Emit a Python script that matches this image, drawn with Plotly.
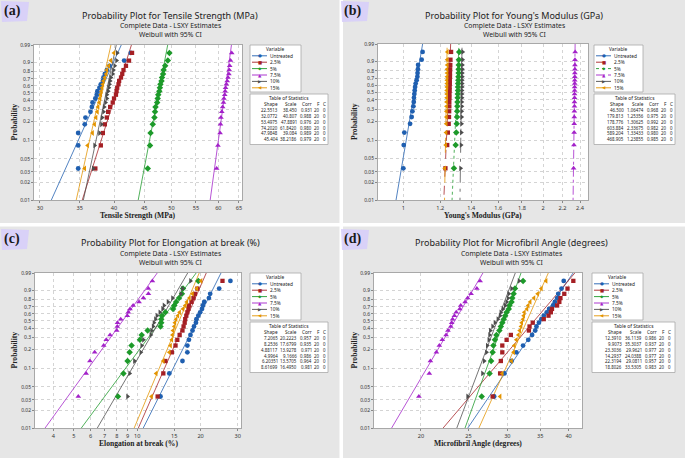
import numpy as np
import plotly.graph_objects as go

W, H = 685, 458

variables = ["Untreated", "2.5%", "5%", "7.5%", "10%", "15%"]
colors = ["#1f5fb0", "#a51f24", "#1d9a2a", "#a321c9", "#4d4d4d", "#e39400"]
symbols = ["circle", "square", "diamond", "triangle-up", "triangle-right", "triangle-left"]
glyphs = ["●", "■", "◆", "▲", "▶", "◀"]
marker_sizes = [4.8, 4.3, 5.0, 5.0, 5.0, 5.0]
dash_b = ["solid", "dash", "dot", "dashdot", "longdashdot", "longdash"]

prob_ticks = [0.01, 0.02, 0.03, 0.05, 0.1, 0.2, 0.3, 0.4, 0.5, 0.6, 0.7, 0.8, 0.9, 0.99]
prob_ticktext = ["0.01", "0.02", "0.03", "0.05", "0.1", "0.2", "0.3", "0.4", "0.5",
                 "0.6", "0.7", "0.8", "0.9", "0.99"]

# ---------------- (a) Tensile strength (MPa) ----------------
tensile_untreated = [34.8, 34.8, 34.8, 35.7, 35.8, 36.5, 36.7, 36.8, 37.2, 37.4, 37.5, 37.8, 38.0, 38.3, 38.4, 38.6, 38.9, 39.3, 41.6, 42.7]
tensile_2_5 = [37.2, 38.0, 38.3, 38.6, 38.9, 39.1, 39.4, 39.8, 40.0, 40.3, 40.4, 40.5, 40.7, 40.8, 41.1, 41.3, 41.5, 41.9, 42.4, 42.9]
tensile_5 = [45.6, 46.0, 46.1, 46.5, 46.8, 46.9, 47.0, 47.3, 47.4, 47.5, 47.7, 47.8, 47.9, 48.1, 48.2, 48.4, 48.5, 48.8, 49.3, 49.6]
tensile_7_5 = [59.6, 59.9, 60.4, 60.5, 60.6, 60.8, 61.0, 61.2, 61.3, 61.5, 61.6, 61.7, 61.9, 62.1, 62.3, 62.5, 62.6, 62.7, 62.9, 63.2]
tensile_10 = [36.9, 37.1, 37.8, 38.1, 38.2, 38.4, 38.5, 38.7, 38.9, 38.9, 39.1, 39.2, 39.3, 39.4, 39.5, 39.8, 39.9, 40.1, 40.4, 40.5]
tensile_15 = [35.7, 36.1, 36.8, 37.1, 37.3, 37.5, 37.6, 37.8, 37.9, 38.0, 38.1, 38.2, 38.3, 38.4, 38.6, 38.8, 38.9, 39.2, 39.5, 40.0]
tensile_shape = ["22.5513", "32.0772", "53.4975", "74.2020", "47.9848", "45.404"]
tensile_scale = ["38.450", "40.807", "47.8891", "61.8420", "39.084", "38.2186"]
tensile_corr = ["0.931", "0.988", "0.976", "0.980", "0.989", "0.979"]
tensile_xticks = [30, 35, 40, 45, 50, 55, 60, 65]

# ---------------- (b) Young's modulus (GPa) ----------------
young_untreated = [1.000, 1.002, 1.005, 1.034, 1.042, 1.046, 1.051, 1.053, 1.054, 1.056, 1.058, 1.060, 1.063, 1.068, 1.072, 1.073, 1.075, 1.076, 1.095, 1.100]
young_2_5 = [1.232, 1.243, 1.247, 1.252, 1.254, 1.255, 1.256, 1.256, 1.257, 1.257, 1.258, 1.258, 1.259, 1.259, 1.260, 1.260, 1.261, 1.262, 1.263, 1.267]
young_5 = [1.285, 1.296, 1.300, 1.303, 1.305, 1.306, 1.307, 1.308, 1.309, 1.310, 1.311, 1.311, 1.312, 1.313, 1.314, 1.315, 1.315, 1.316, 1.317, 1.319]
young_7_5 = [2.325, 2.329, 2.331, 2.332, 2.333, 2.334, 2.335, 2.335, 2.336, 2.336, 2.337, 2.337, 2.338, 2.338, 2.339, 2.339, 2.340, 2.340, 2.341, 2.343]
young_10 = [1.328, 1.331, 1.333, 1.334, 1.335, 1.335, 1.336, 1.336, 1.337, 1.337, 1.337, 1.338, 1.338, 1.338, 1.339, 1.339, 1.340, 1.340, 1.341, 1.342]
young_15 = [1.228, 1.234, 1.236, 1.237, 1.238, 1.238, 1.239, 1.239, 1.240, 1.240, 1.240, 1.241, 1.241, 1.241, 1.242, 1.242, 1.242, 1.243, 1.243, 1.244]
young_shape = ["46.500", "179.813", "178.776", "603.884", "589.204", "468.905"]
young_scale = ["1.06474", "1.25356", "1.30625", "2.33675", "1.33433", "1.23855"]
young_corr = ["0.968", "0.975", "0.992", "0.982", "0.980", "0.985"]
young_xticks = [1, 1.2, 1.4, 1.6, 1.8, 2, 2.2, 2.4]

# ---------------- (c) Elongation at break (%) ----------------
elong_untreated = [12.9, 14.2, 16.4, 17.3, 17.3, 17.6, 17.9, 18.3, 18.6, 19.0, 19.1, 19.5, 19.9, 20.3, 20.5, 20.8, 21.9, 22.2, 24.5, 27.7]
elong_2_5 = [12.5, 13.3, 13.6, 14.6, 15.2, 15.5, 15.9, 16.4, 16.6, 16.8, 16.9, 17.1, 17.3, 17.5, 17.6, 18.1, 18.5, 18.8, 19.3, 25.4]
elong_5 = [8.1, 8.6, 9.0, 9.2, 9.4, 10.3, 10.5, 11.2, 12.9, 13.0, 13.0, 13.1, 13.6, 14.8, 15.0, 15.3, 15.8, 16.3, 16.5, 19.5]
elong_7_5 = [5.25, 5.72, 5.96, 6.28, 6.93, 7.13, 7.43, 7.99, 8.04, 8.06, 8.35, 8.97, 9.07, 9.24, 9.56, 10.2, 10.7, 11.3, 11.3, 11.8]
elong_10 = [9.0, 9.2, 9.7, 10.4, 10.5, 10.7, 11.6, 11.7, 11.9, 12.0, 12.2, 12.4, 12.8, 13.2, 13.4, 14.0, 14.7, 16.1, 16.4, 17.9]
elong_15 = [11.7, 12.3, 13.3, 14.2, 14.4, 14.6, 14.7, 14.8, 15.0, 15.1, 15.3, 15.6, 15.9, 16.5, 16.9, 17.2, 17.7, 18.3, 19.2, 20.1]
elong_shape = ["7.2065", "8.2536", "4.88117", "4.9964", "6.20351", "8.61699"]
elong_scale = ["20.2223", "17.6799", "13.9278", "9.1666", "13.5705", "16.4950"]
elong_corr = ["0.957", "0.935", "0.971", "0.986", "0.964", "0.981"]
elong_xticks = [4, 5, 6, 7, 8, 9, 10, 15, 20, 30]

# ---------------- (d) Microfibril angle (degrees) ----------------
mfa_untreated = [28.2, 29.6, 30.6, 31.3, 32.3, 33.1, 33.7, 34.2, 34.4, 34.8, 35.2, 35.6, 36.1, 36.5, 37.2, 37.5, 37.9, 38.1, 38.7, 39.1]
mfa_2_5 = [28.0, 29.0, 29.1, 29.3, 29.3, 29.9, 30.5, 33.2, 33.3, 33.8, 35.6, 36.4, 36.8, 37.0, 37.9, 38.3, 38.5, 39.2, 39.8, 40.9]
mfa_5 = [26.6, 27.6, 27.8, 28.0, 28.1, 28.3, 28.5, 28.9, 29.1, 29.3, 29.5, 29.7, 29.9, 30.2, 30.3, 30.6, 30.7, 30.9, 31.1, 32.3]
mfa_7_5 = [19.8, 20.8, 20.9, 21.5, 21.8, 22.1, 22.5, 22.7, 23.0, 23.1, 23.2, 23.4, 23.6, 24.0, 24.1, 24.6, 24.9, 25.3, 26.0, 26.4]
mfa_10 = [24.9, 26.7, 26.9, 27.2, 27.3, 27.5, 27.6, 27.7, 28.0, 28.3, 28.7, 29.0, 29.1, 29.4, 29.7, 29.9, 30.1, 30.2, 30.6, 31.7]
mfa_15 = [29.0, 29.3, 30.6, 30.9, 31.0, 31.3, 31.6, 31.8, 32.0, 32.1, 32.3, 32.4, 32.5, 32.9, 33.1, 33.4, 34.0, 34.6, 35.2, 36.0]
mfa_shape = ["12.3910", "9.9073", "23.3036", "14.2937", "22.3194", "18.8026"]
mfa_scale = ["36.1139", "35.3037", "29.9621", "24.0388", "29.0811", "33.5305"]
mfa_corr = ["0.986", "0.937", "0.977", "0.977", "0.957", "0.983"]
mfa_xticks = [20, 25, 30, 35, 40]

N_OBS = "20"
N_CENS = "0"


def wtrans(p):
    p = np.asarray(p, dtype=float)
    return np.log(-np.log(1.0 - p))


def px(x):
    return x / W


def py(y):
    return 1 - y / H


def fmt_tick(v):
    return ("%g" % v)


panels = [
    dict(label="(a)", ox=0, oy=0, plot=(34, 242, 45, 200),
         title="Probability Plot for Tensile Strength (MPa)", xtitle="Tensile Strength (MPa)",
         xrange=(29.31, 65.77), xticks=tensile_xticks,
         series=[tensile_untreated, tensile_2_5, tensile_5, tensile_7_5, tensile_10, tensile_15],
         shape=tensile_shape, scale=tensile_scale, corr=tensile_corr, dashed=False,
         leg=(250, 301), tab=(250, 328), tcx=170),
    dict(label="(b)", ox=340, oy=0, plot=(38, 248, 44, 200),
         title="Probability Plot for Young's Modulus (GPa)", xtitle="Young's Modulus (GPa)",
         xrange=(0.882, 2.497), xticks=young_xticks,
         series=[young_untreated, young_2_5, young_5, young_7_5, young_10, young_15],
         shape=young_shape, scale=young_scale, corr=young_corr, dashed=True,
         leg=(254, 303), tab=(254, 335), tcx=174),
    dict(label="(c)", ox=0, oy=228, plot=(35, 241, 45, 200),
         title="Probability Plot for Elongation at break (%)", xtitle="Elongation at break (%)",
         xrange=(3.27, 31.1), xticks=elong_xticks,
         series=[elong_untreated, elong_2_5, elong_5, elong_7_5, elong_10, elong_15],
         shape=elong_shape, scale=elong_scale, corr=elong_corr, dashed=False,
         leg=(250, 301), tab=(250, 328), tcx=170),
    dict(label="(d)", ox=340, oy=228, plot=(34, 242, 45, 200),
         title="Probability Plot for Microfibril Angle (degrees)", xtitle="Microfibril Angle (degrees)",
         xrange=(16.04, 42.6), xticks=mfa_xticks,
         series=[mfa_untreated, mfa_2_5, mfa_5, mfa_7_5, mfa_10, mfa_15],
         shape=mfa_shape, scale=mfa_scale, corr=mfa_corr, dashed=False,
         leg=(252, 303), tab=(252, 335), tcx=172),
]

ymin, ymax = float(wtrans(0.01)), float(wtrans(0.99))

fig = go.Figure()
layout = dict(width=W, height=H, margin=dict(l=0, r=0, t=0, b=0, autoexpand=False),
              paper_bgcolor="#e6e6e6", plot_bgcolor="white", showlegend=False)
annotations = []
shapes = []

# white separators between the four panels
shapes.append(dict(type="rect", xref="paper", yref="paper", x0=px(339.5), x1=px(343),
                   y0=0, y1=1, fillcolor="white", line=dict(width=0), layer="below"))
shapes.append(dict(type="rect", xref="paper", yref="paper", x0=0, x1=1,
                   y0=py(226.5), y1=py(223), fillcolor="white", line=dict(width=0), layer="below"))

text_font = "Noto Sans, Open Sans, sans-serif"
serif_font = "Liberation Serif, Times New Roman, serif"


def note(x, y, text, size, anchor="center", family=text_font, color="#222222", **kw):
    d = dict(x=px(x), y=py(y), xref="paper", yref="paper", showarrow=False, text=text,
             xanchor=anchor, yanchor="middle", borderpad=0,
             font=dict(family=family, size=size, color=color))
    d.update(kw)
    annotations.append(d)


for k, P in enumerate(panels):
    n = "" if k == 0 else str(k + 1)
    xa, ya = "x" + n, "y" + n
    ox, oy = P["ox"], P["oy"]
    x0, x1, y0, y1 = P["plot"]

    layout["xaxis" + n] = dict(
        type="log", range=[np.log10(P["xrange"][0]), np.log10(P["xrange"][1])],
        domain=[px(ox + x0), px(ox + x1)], anchor=ya,
        tickvals=P["xticks"], ticktext=[fmt_tick(v) for v in P["xticks"]],
        showgrid=True, gridcolor="#d4d4d4", griddash="dot", gridwidth=0.8,
        showline=True, mirror=True, linecolor="#a8a8a8", linewidth=0.8,
        ticks="outside", ticklen=2, tickcolor="#888888", tickwidth=0.6,
        tickfont=dict(family=text_font, size=5.6, color="#333333"), zeroline=False)
    layout["yaxis" + n] = dict(
        range=[ymin, ymax], domain=[py(oy + y1), py(oy + y0)], anchor=xa,
        tickvals=list(wtrans(prob_ticks)), ticktext=prob_ticktext,
        showgrid=True, gridcolor="#d4d4d4", griddash="dot", gridwidth=0.8,
        showline=True, mirror=True, linecolor="#a8a8a8", linewidth=0.8,
        ticks="outside", ticklen=2, tickcolor="#888888", tickwidth=0.6,
        tickfont=dict(family=text_font, size=5.0, color="#333333"), zeroline=False)

    # fitted Weibull lines (from table parameters)
    for s in range(6):
        shp = float(P["shape"][s])
        scl = float(P["scale"][s])
        yy = np.array([ymin - 0.5, ymax + 0.5])
        xx = scl * np.exp(yy / shp)
        fig.add_trace(go.Scatter(
            x=xx, y=yy, mode="lines", xaxis=xa, yaxis=ya, hoverinfo="skip",
            line=dict(color=colors[s], width=0.9,
                      dash=dash_b[s] if P["dashed"] else "solid"),
            opacity=0.85))
    # data points at median ranks
    for s in range(6):
        data = sorted(P["series"][s])
        nobs = len(data)
        ranks = np.arange(1, nobs + 1)
        pp = (ranks - 0.3) / (nobs + 0.4)
        fig.add_trace(go.Scatter(
            x=data, y=wtrans(pp), mode="markers", xaxis=xa, yaxis=ya, name=variables[s],
            marker=dict(symbol=symbols[s], size=marker_sizes[s], color=colors[s],
                        line=dict(width=0))))

    # titles
    cx = ox + P["tcx"]
    note(cx, oy + 15, P["title"], 9)
    note(cx, oy + 25.3, "Complete Data - LSXY Estimates", 6.8)
    note(cx, oy + 34.3, "Weibull with 95% CI", 6.8)
    # axis titles
    note(ox + (x0 + x1) / 2, oy + 215.3, "<b>" + P["xtitle"] + "</b>", 7.6, family=serif_font)
    note(ox + 14, oy + (y0 + y1) / 2, "<b>Probability</b>", 7.6, family=serif_font, textangle=-90)
    # panel label with lavender highlight
    shapes.append(dict(type="path", xref="paper", yref="paper",
                       path="M %f %f L %f %f L %f %f L %f %f Z" % (
                           px(ox + 1), py(oy + 1), px(ox + 29), py(oy + 2),
                           px(ox + 27), py(oy + 21), px(ox + 2), py(oy + 22)),
                       fillcolor="rgba(214,204,250,0.85)", line=dict(width=0), layer="below"))
    note(ox + 3, oy + 11, "<b>" + P["label"] + "</b>", 14, anchor="left", family=serif_font,
         color="#1a1a1a")

    # legend box
    lx0, lx1 = P["leg"]
    shapes.append(dict(type="rect", xref="paper", yref="paper",
                       x0=px(ox + lx0), x1=px(ox + lx1), y0=py(oy + 92), y1=py(oy + 45),
                       fillcolor="white", line=dict(color="#a8a8a8", width=0.8)))
    note(ox + (lx0 + lx1) / 2, oy + 49.3, "Variable", 4.8)
    for s in range(6):
        yy = oy + 55.8 + s * 6.4
        shapes.append(dict(type="line", xref="paper", yref="paper",
                           x0=px(ox + lx0 + 2), x1=px(ox + lx0 + 17), y0=py(yy), y1=py(yy),
                           line=dict(color=colors[s], width=0.9,
                                     dash=dash_b[s] if P["dashed"] else "solid")))
        note(ox + lx0 + 9.5, yy, glyphs[s], 4.4, family="DejaVu Sans", color=colors[s])
        note(ox + lx0 + 19, yy, variables[s], 4.8, anchor="left")

    # table of statistics
    tx0, tx1 = P["tab"]
    shapes.append(dict(type="rect", xref="paper", yref="paper",
                       x0=px(ox + tx0), x1=px(ox + tx1), y0=py(oy + 144.5), y1=py(oy + 94),
                       fillcolor="white", line=dict(color="#a8a8a8", width=0.8)))
    note(ox + (tx0 + tx1) / 2, oy + 98.4, "Table of Statistics", 4.9)
    wide = (tx1 - tx0) > 80
    cols = [29, 48, 62.5, 70.8, 77.3] if not wide else [30.5, 50.5, 65.5, 74, 80]
    header = ["Shape", "Scale", "Corr", "F", "C"]
    for c in range(5):
        note(ox + tx0 + cols[c], oy + 104.3, header[c], 4.7, anchor="right")
    for s in range(6):
        row = [P["shape"][s], P["scale"][s], P["corr"][s], N_OBS, N_CENS]
        yy = oy + 110.2 + s * 5.8
        for c in range(5):
            note(ox + tx0 + cols[c], yy, row[c], 4.4, anchor="right")

layout["annotations"] = annotations
layout["shapes"] = shapes
fig.update_layout(**layout)
fig.write_html("out.html", config={"displayModeBar": False},
               post_script="document.body.style.margin='0';document.body.style.padding='0';")
